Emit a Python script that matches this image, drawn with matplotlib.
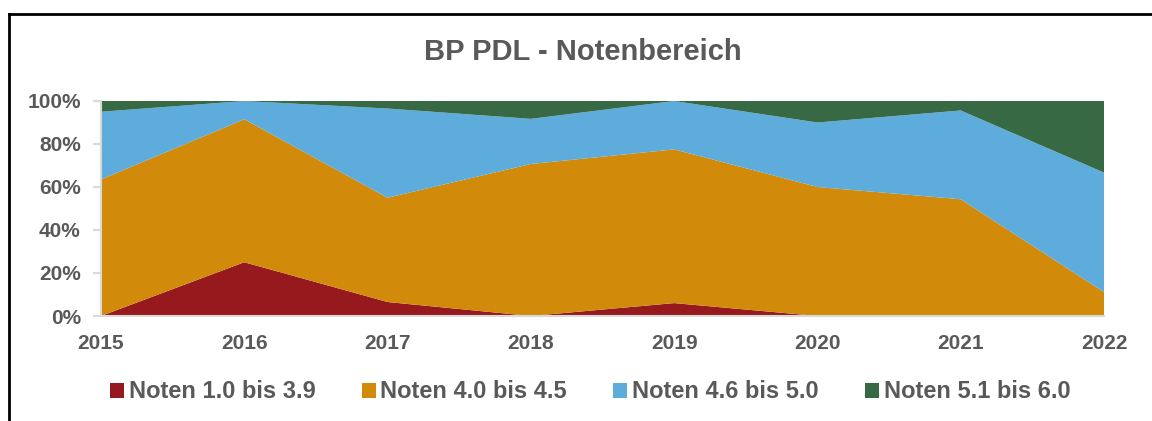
import matplotlib
matplotlib.use('Agg')
import matplotlib.pyplot as plt
from matplotlib.lines import Line2D
from matplotlib.ticker import FuncFormatter

jahre = [2015, 2016, 2017, 2018, 2019, 2020, 2021, 2022]
noten_1_0_bis_3_9 = [0, 25, 6.5, 0, 6, 0, 0, 0]
noten_4_0_bis_4_5 = [63.5, 66.5, 48.5, 70.7, 71.5, 60, 54.3, 11.1]
noten_4_6_bis_5_0 = [31.5, 8.5, 41.5, 21, 22.5, 30, 41.3, 55.6]
noten_5_1_bis_6_0 = [5, 0, 3.5, 8.3, 0, 10, 4.4, 33.3]

serien_namen = ['Noten 1.0 bis 3.9', 'Noten 4.0 bis 4.5',
                'Noten 4.6 bis 5.0', 'Noten 5.1 bis 6.0']
farben = ['#96191E', '#D18A0A', '#5EACDB', '#366944']

grau = '#595959'
hellgrau = '#D9D9D9'

plt.rcParams['font.family'] = ['Liberation Sans', 'DejaVu Sans']
plt.rcParams['font.weight'] = 'bold'

fig = plt.figure(figsize=(11.52, 4.21), dpi=100)
ax = fig.add_axes([101 / 1152, 1 - 316 / 421, (1104 - 101) / 1152, (316 - 101) / 421])

ax.stackplot(jahre, noten_1_0_bis_3_9, noten_4_0_bis_4_5, noten_4_6_bis_5_0,
             noten_5_1_bis_6_0, colors=farben, labels=serien_namen, lw=0, zorder=2)

ax.set_xlim(2015, 2022)
ax.set_ylim(0, 100)
ax.set_xticks(jahre)
ax.set_yticks(range(0, 101, 20))
ax.yaxis.set_major_formatter(FuncFormatter(lambda v, p: f'{int(v)}%'))

# Achsen und Beschriftungen im Excel-Stil
for s in ['top', 'right']:
    ax.spines[s].set_visible(False)
for s in ['left', 'bottom']:
    ax.spines[s].set_color(hellgrau)
    ax.spines[s].set_linewidth(1.5)
ax.grid(axis='y', color=hellgrau, lw=1.5, zorder=0)
ax.set_axisbelow(True)
ax.tick_params(axis='y', length=5.5, width=1.5, color=hellgrau, pad=9,
               labelsize=15, labelcolor=grau)
ax.tick_params(axis='x', length=0, pad=13, labelsize=15, labelcolor=grau)
for lbl in ax.get_xticklabels() + ax.get_yticklabels():
    lbl.set_fontweight('bold')

fig.text(583 / 1152, 1 - 52 / 421, 'BP PDL - Notenbereich', ha='center', va='center',
         fontsize=21, fontweight='bold', color=grau)

fig.legend(loc='center', bbox_to_anchor=(590 / 1152, 1 - 392 / 421), ncol=4,
           frameon=False, handlelength=0.6, handleheight=0.6, handletextpad=0.2,
           columnspacing=1.95, prop={'size': 17, 'weight': 'bold'}, labelcolor=grau)

# Rahmen oben und links wie im Original
fig.add_artist(Line2D([9 / 1152, 9 / 1152], [0, 1 - 14 / 421], color='black', lw=2,
                      transform=fig.transFigure))
fig.add_artist(Line2D([9 / 1152, 1], [1 - 14 / 421, 1 - 14 / 421], color='black', lw=2,
                      transform=fig.transFigure))

fig.savefig('out.png', dpi=100)
